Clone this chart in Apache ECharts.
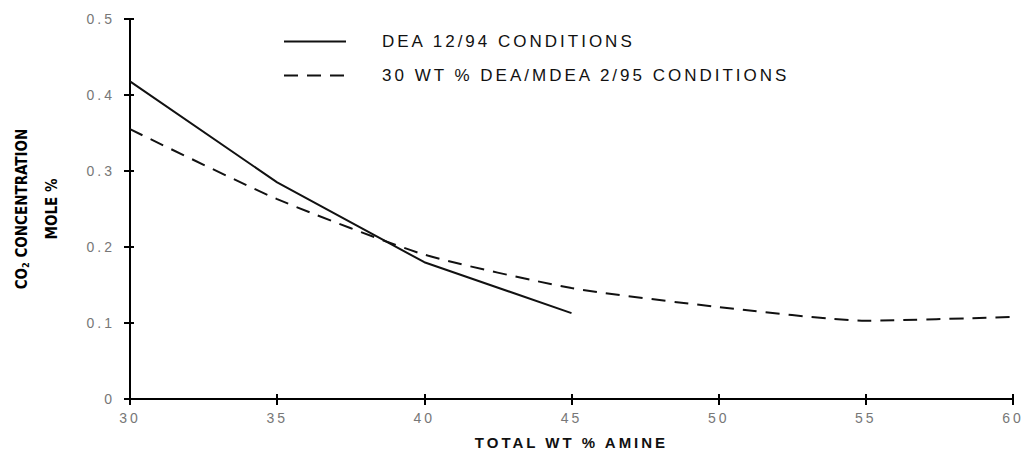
<!DOCTYPE html>
<html>
<head>
<meta charset="utf-8">
<script src="https://cdn.jsdelivr.net/npm/echarts@6.0.0/dist/echarts.min.js"></script>
<style>
  html, body { margin: 0; padding: 0; background: #fff; }
  #chart { width: 1023px; height: 452px; }
  /* the scanned original has wide, spread-out lettering */
  #chart text { letter-spacing: 3px; }
  #chart text[style*="Narrow"] { letter-spacing: 0; font-weight: bold; }
  #chart text[style*="bold 15px"] { letter-spacing: 5px; }
  #chart text[style*="17px"] { letter-spacing: 3px; }
</style>
</head>
<body>
<div id="chart"></div>
<script>
// values
const amineWt = [30, 35, 40, 45];
const dea1294 = [0.418, 0.285, 0.180, 0.113];

const amineWtMix = [30, 35, 40, 45, 50, 55, 60];
const deaMdea295 = [0.355, 0.263, 0.190, 0.146, 0.121, 0.103, 0.108];

const seriesNames = ['DEA 12/94 CONDITIONS', '30 WT % DEA/MDEA 2/95 CONDITIONS'];

const pairs = (xs, ys) => xs.map((x, i) => [x, ys[i]]);

const chart = echarts.init(document.getElementById('chart'), null, { renderer: 'svg' });

const labelStyle = {
    color: '#777',
    fontFamily: "'Liberation Sans', Arial, sans-serif",
    fontSize: 14
};

const titleFont = "'Liberation Sans Narrow', 'DejaVu Sans Condensed', sans-serif";

chart.setOption({
    animation: false,
    grid: { left: 130, right: 10, top: 19, bottom: 53, outerBoundsMode: 'none', containLabel: false },
    legend: {
        orient: 'vertical',
        left: 278,
        top: 28,
        itemWidth: 62,
        itemHeight: 14,
        itemGap: 17,
        itemStyle: { opacity: 0 },
        textStyle: {
            color: '#111',
            fontFamily: "'Liberation Sans', Arial, sans-serif",
            fontSize: 17,
            padding: [0, 0, 0, 31]
        },
        data: seriesNames
    },
    xAxis: [{
        type: 'value',
        min: 30,
        max: 60,
        interval: 5,
        splitLine: { show: false },
        axisLine: { lineStyle: { color: '#000', width: 2 } },
        axisTick: { length: 6, lineStyle: { color: '#000', width: 2 } },
        axisLabel: { ...labelStyle, margin: 12 },
        name: 'TOTAL WT % AMINE',
        nameLocation: 'middle',
        nameGap: 36,
        nameTextStyle: {
            color: '#111',
            fontFamily: "'Liberation Sans', Arial, sans-serif",
            fontWeight: 'bold',
            fontSize: 15
        }
    }, {
        // inner half of the crossing ticks
        type: 'value',
        position: 'bottom',
        min: 30,
        max: 60,
        interval: 5,
        splitLine: { show: false },
        axisLine: { show: false },
        axisTick: { inside: true, length: 5, lineStyle: { color: '#000', width: 2 } },
        axisLabel: { show: false }
    }],
    yAxis: [{
        type: 'value',
        min: 0,
        max: 0.5,
        interval: 0.1,
        splitLine: { show: false },
        axisLine: { show: true, lineStyle: { color: '#000', width: 2 } },
        axisTick: { show: true, length: 6, lineStyle: { color: '#000', width: 2 } },
        axisLabel: { ...labelStyle, margin: 15 },
        name: '{b|CO}{s|2}{b| CONCENTRATION}\n{b|MOLE %}',
        nameLocation: 'middle',
        nameRotate: 90,
        nameGap: 63,
        nameTextStyle: {
            rich: {
                b: {
                    color: '#000',
                    fontFamily: titleFont,
                    fontWeight: 'bold',
                    fontSize: 15,
                    lineHeight: 30
                },
                s: {
                    color: '#000',
                    fontFamily: titleFont,
                    fontWeight: 'bold',
                    fontSize: 9,
                    lineHeight: 30,
                    padding: [8, 0, 0, 0]
                }
            }
        }
    }, {
        type: 'value',
        position: 'left',
        min: 0,
        max: 0.5,
        interval: 0.1,
        splitLine: { show: false },
        axisLine: { show: false },
        axisTick: { show: true, inside: true, length: 4, lineStyle: { color: '#000', width: 2 } },
        axisLabel: { show: false }
    }],
    series: [{
        name: seriesNames[0],
        type: 'line',
        symbol: 'none',
        data: pairs(amineWt, dea1294),
        lineStyle: { color: '#111', width: 2 },
        itemStyle: { color: '#111' }
    }, {
        name: seriesNames[1],
        type: 'line',
        symbol: 'none',
        smooth: 0.2,
        data: pairs(amineWtMix, deaMdea295),
        lineStyle: { color: '#111', width: 2, type: [14, 9] },
        itemStyle: { color: '#111' }
    }]
});
</script>
</body>
</html>
